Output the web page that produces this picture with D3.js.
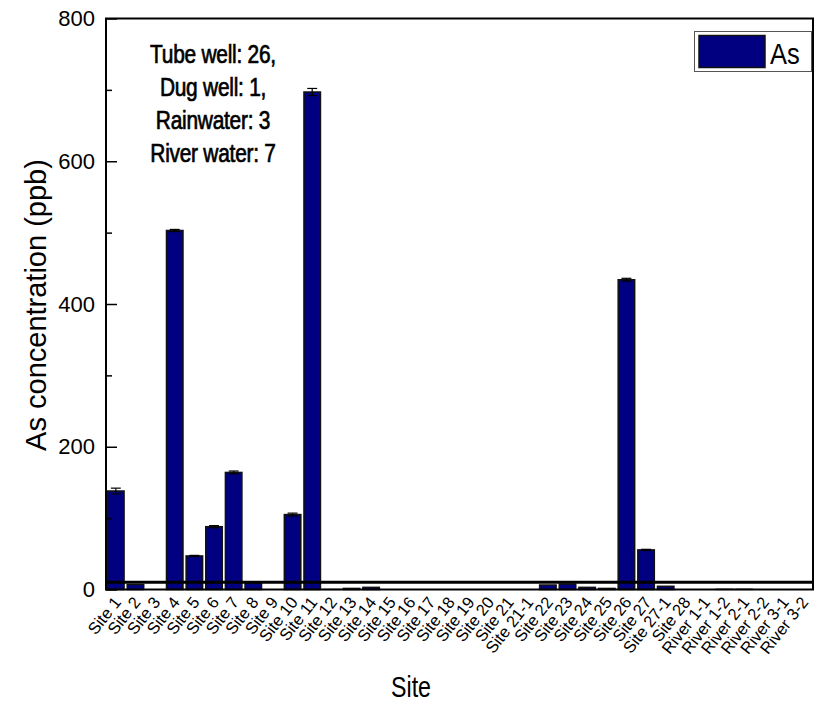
<!DOCTYPE html>
<html>
<head>
<meta charset="utf-8">
<script src="https://cdn.jsdelivr.net/npm/d3@7/dist/d3.min.js"></script>
<style>
  html, body { margin: 0; padding: 0; background: #fff; }
  svg { display: block; font-family: "Liberation Sans", Arial, sans-serif; }
</style>
</head>
<body>
<svg id="chart" width="821" height="704"></svg>
<script>
// Sampling sites (x categories)
const sites = [
  "Site 1", "Site 2", "Site 3", "Site 4", "Site 5", "Site 6", "Site 7", "Site 8",
  "Site 9", "Site 10", "Site 11", "Site 12", "Site 13", "Site 14", "Site 15",
  "Site 16", "Site 17", "Site 18", "Site 19", "Site 20", "Site 21", "Site 21-1",
  "Site 22", "Site 23", "Site 24", "Site 25", "Site 26", "Site 27", "Site 27-1",
  "Site 28", "River 1-1", "River 1-2", "River 2-1", "River 2-2", "River 3-1", "River 3-2"
];
// Mean arsenic concentration (ppb) at each site
const asValues = [
  138, 7, 0, 503, 47, 88, 164, 9.5,
  0, 105, 697, 0.3, 1.5, 3, 0,
  0, 0, 0, 0, 0, 0, 0,
  6.3, 7.7, 3, 1.5, 434, 55.5, 4.5,
  0, 0, 0.8, 0.8, 0, 0, 0
];
// Standard deviation of each mean (ppb)
const asErrors = [
  4, 0, 0, 1.5, 0.8, 1.5, 2, 0,
  0, 2, 5, 0, 0, 0, 0,
  0, 0, 0, 0, 0, 0, 0,
  0, 0, 0, 0, 2, 0.8, 0,
  0, 0, 0, 0, 0, 0, 0
];
const yTicks = [0, 200, 400, 600, 800];
const yMinorTicks = [100, 300, 500, 700];
const guideline = 10; // WHO arsenic guideline, ppb
const notes = ["Tube well: 26,", "Dug well: 1,", "Rainwater: 3", "River water: 7"];

const svg = d3.select("#chart");
const m = { left: 106, right: 813, top: 18.5, bottom: 589.5 };

const x = d3.scaleBand().domain(sites).range([m.left, m.right]).paddingInner(0.16).paddingOuter(0.08);
const y = d3.scaleLinear().domain([0, 800]).range([m.bottom, m.top]);

// bars
svg.append("g").selectAll("rect").data(sites).join("rect")
  .attr("x", d => x(d))
  .attr("width", x.bandwidth())
  .attr("y", (d, i) => y(asValues[i]))
  .attr("height", (d, i) => y(0) - y(asValues[i]))
  .attr("fill", "#000080")
  .attr("stroke", (d, i) => asValues[i] < 1 ? "#999" : "#111")
  .attr("stroke-width", 1.5);

// error bars
const eb = svg.append("g").attr("stroke", "#000").attr("stroke-width", 1.2);
sites.forEach((s, i) => {
  if (!asErrors[i]) return;
  const cx = x(s) + x.bandwidth() / 2;
  const hw = x.bandwidth() * 0.3;
  const y1 = y(asValues[i] + asErrors[i]), y0 = y(asValues[i] - asErrors[i]);
  eb.append("line").attr("x1", cx).attr("x2", cx).attr("y1", y1).attr("y2", y0);
  eb.append("line").attr("x1", cx - hw).attr("x2", cx + hw).attr("y1", y1).attr("y2", y1);
  eb.append("line").attr("x1", cx - hw).attr("x2", cx + hw).attr("y1", y0).attr("y2", y0);
});

// guideline
svg.append("line")
  .attr("x1", m.left).attr("x2", m.right)
  .attr("y1", y(guideline)).attr("y2", y(guideline))
  .attr("stroke", "#000").attr("stroke-width", 3);

// frame
svg.append("rect")
  .attr("x", m.left).attr("y", m.top)
  .attr("width", m.right - m.left).attr("height", m.bottom - m.top)
  .attr("fill", "none").attr("stroke", "#000").attr("stroke-width", 2);

// y axis
const yAxis = d3.axisLeft(y).tickValues(yTicks).tickSizeInner(-11).tickSizeOuter(0).tickPadding(11);
const gy = svg.append("g").attr("transform", `translate(${m.left},0)`).call(yAxis);
gy.select(".domain").remove();
gy.selectAll(".tick line").attr("stroke-width", 1.5);
gy.selectAll(".tick text").attr("font-size", 22).attr("font-family", "Liberation Sans, Arial, sans-serif").attr("fill", "#000");
const gyMinor = svg.append("g").attr("transform", `translate(${m.left},0)`)
  .call(d3.axisLeft(y).tickValues(yMinorTicks).tickSizeInner(-6).tickSizeOuter(0).tickFormat(""));
gyMinor.select(".domain").remove();
gyMinor.selectAll(".tick line").attr("stroke-width", 1.5);

// x axis labels
const gx = svg.append("g").attr("transform", `translate(0,${m.bottom})`)
  .call(d3.axisBottom(x).tickSize(0).tickPadding(0));
gx.select(".domain").remove();
gx.selectAll(".tick text")
  .attr("font-size", 16.5).attr("font-family", "Liberation Sans, Arial, sans-serif").attr("fill", "#000")
  .attr("text-anchor", "end").attr("dy", 0).attr("y", 0)
  .attr("transform", "translate(6,13) rotate(-52)");

// axis titles
svg.append("text").attr("transform", "translate(411,697) scale(0.8,1)").attr("text-anchor", "middle")
  .attr("font-size", 29).text("Site");
svg.append("text").attr("transform", "translate(46,305) rotate(-90)").attr("text-anchor", "middle")
  .attr("font-size", 29).text("As concentration (ppb)");

// site-type counts
const nt = svg.append("text").attr("text-anchor", "middle")
  .attr("transform", "translate(213,0) scale(0.82,1)")
  .attr("font-family", "Liberation Sans, Arial, sans-serif")
  .attr("font-size", 25.5).attr("letter-spacing", -0.3).attr("fill", "#000")
  .attr("stroke", "#000").attr("stroke-width", 0.7);
notes.forEach((t, i) => nt.append("tspan").attr("x", 0).attr("y", 63 + i * 33).text(t));

// legend
const lg = svg.append("g");
lg.append("rect").attr("x", 694.5).attr("y", 31.5).attr("width", 117).attr("height", 40)
  .attr("fill", "#fff").attr("stroke", "#555").attr("stroke-width", 1);
lg.append("rect").attr("x", 699).attr("y", 35.5).attr("width", 66).attr("height", 32)
  .attr("fill", "#000080").attr("stroke", "#111").attr("stroke-width", 1.5);
lg.append("text").attr("transform", "translate(770,64) scale(0.85,1)").attr("font-size", 30).text("As");
</script>
</body>
</html>
